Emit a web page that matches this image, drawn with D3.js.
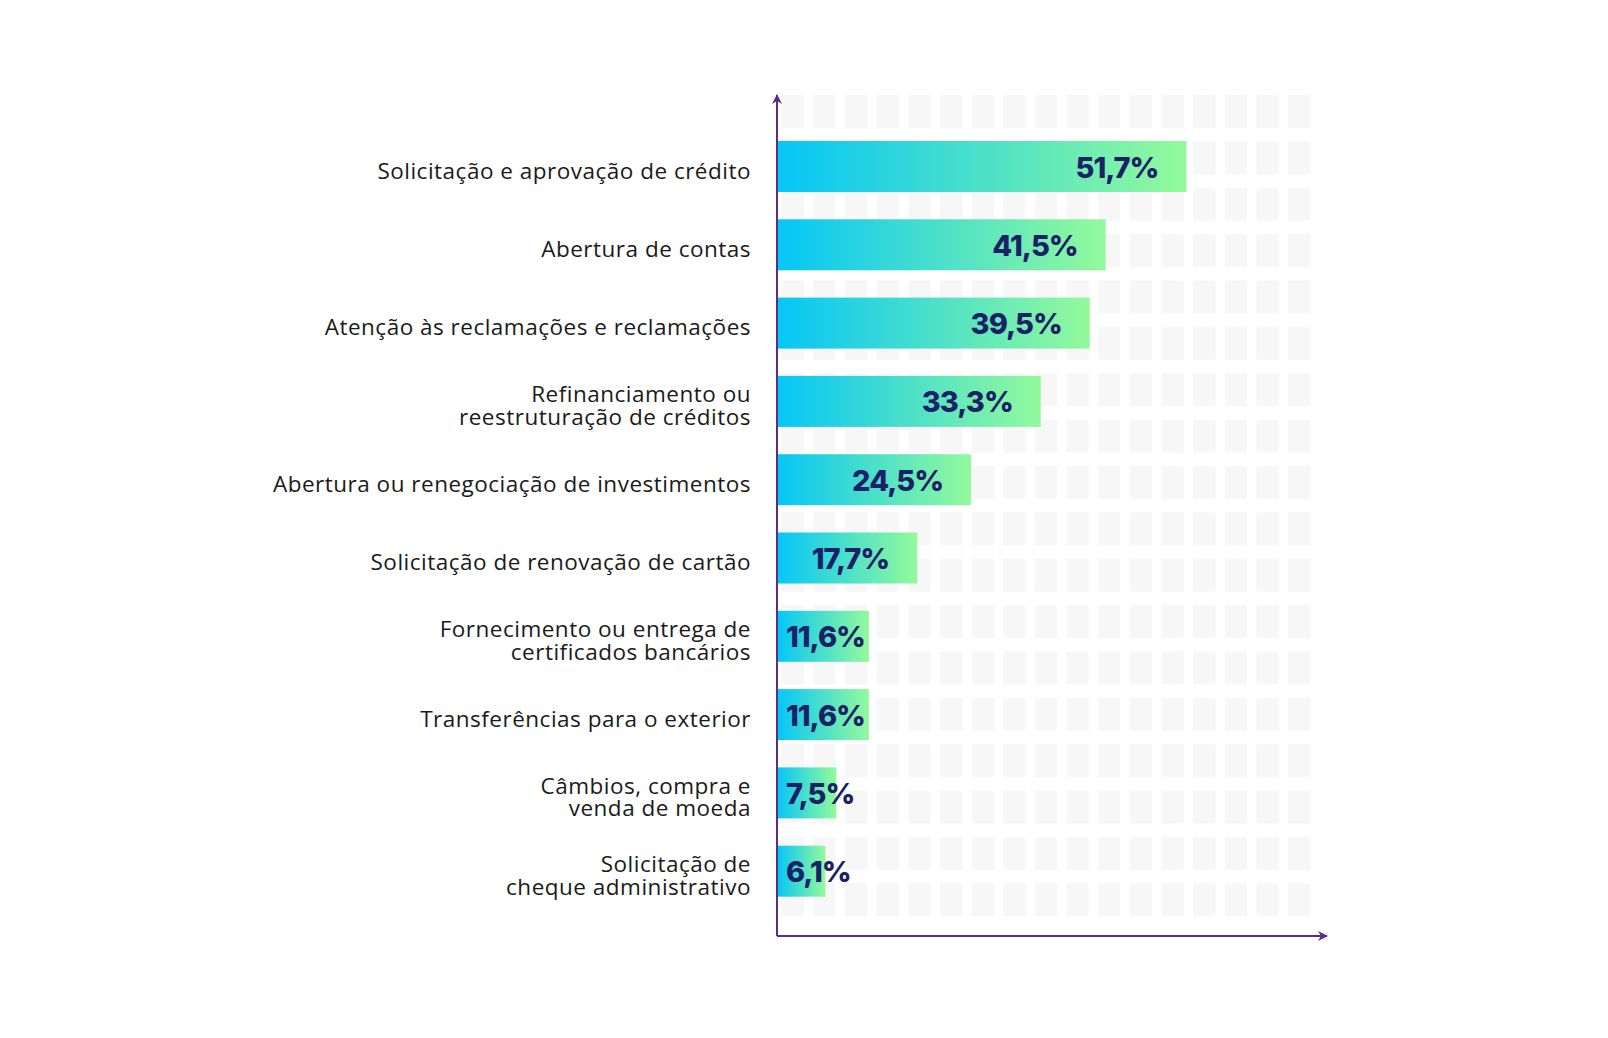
<!DOCTYPE html>
<html>
<head>
<meta charset="utf-8">
<script src="https://cdn.jsdelivr.net/npm/d3@7"></script>
<style>
  html, body { margin: 0; padding: 0; background: #ffffff; }
  svg { display: block; }
</style>
</head>
<body>
<svg id="chart" width="1608" height="1038"></svg>
<script>
// ---- data ----
const categories = [
  "Solicitação e aprovação de crédito",
  "Abertura de contas",
  "Atenção às reclamações e reclamações",
  "Refinanciamento ou\nreestruturação de créditos",
  "Abertura ou renegociação de investimentos",
  "Solicitação de renovação de cartão",
  "Fornecimento ou entrega de\ncertificados bancários",
  "Transferências para o exterior",
  "Câmbios, compra e\nvenda de moeda",
  "Solicitação de\ncheque administrativo"
];
const values = [51.7, 41.5, 39.5, 33.3, 24.5, 17.7, 11.6, 11.6, 7.5, 6.1];

// ---- layout ----
const svg = d3.select("#chart");
const x0 = 777, axisTop = 95, axisBottom = 936, axisRight = 1327;
const ptLocale = d3.formatLocale({decimal: ",", thousands: ".", grouping: [3], currency: ["", ""]});
const fmt = v => ptLocale.format(".1f")(v) + "%";

const x = d3.scaleLinear().domain([0, 68]).range([x0, x0 + 68 * 7.92]);
const step = 78.3, bandH = 51;
const pad = (step - bandH) / step;
const y = d3.scaleBand().domain(categories)
  .range([141 - pad / 2 * step, 141 - pad / 2 * step + step * categories.length])
  .paddingInner(pad).paddingOuter(pad / 2);

// ---- background grid of light squares ----
const cols = d3.range(17), rows = d3.range(18);
const gridG = svg.append("g");
rows.forEach(r => {
  gridG.selectAll(null).data(cols).enter().append("rect")
    .attr("x", c => 781.7 + c * 31.65)
    .attr("y", 95 + r * 46.37)
    .attr("width", 22.3)
    .attr("height", 33)
    .attr("fill", "#f7f7f7");
});

// ---- gradient ----
const defs = svg.append("defs");
const grad = defs.append("linearGradient").attr("id", "barGrad")
  .attr("x1", "0%").attr("x2", "100%").attr("y1", "0%").attr("y2", "0%");
grad.append("stop").attr("offset", "0%").attr("stop-color", "#05c6f7");
grad.append("stop").attr("offset", "100%").attr("stop-color", "#93fa9b");

const mk = defs.append("marker").attr("id", "arrow")
  .attr("viewBox", "0 0 10 10").attr("refX", 9).attr("refY", 5)
  .attr("markerWidth", 5).attr("markerHeight", 5).attr("orient", "auto-start-reverse")
  .attr("markerUnits", "strokeWidth");
mk.append("path").attr("d", "M0,0 L10,5 L0,10 L3,5 Z").attr("fill", "#5a2d8c");

// ---- bars ----
svg.append("g").selectAll("rect").data(values).enter().append("rect")
  .attr("x", x(0))
  .attr("y", (d, i) => y(categories[i]))
  .attr("width", d => x(d) - x(0))
  .attr("height", y.bandwidth())
  .attr("fill", "url(#barGrad)");

// ---- value labels ----
svg.append("g").selectAll("text").data(values).enter().append("text")
  .attr("x", d => (x(d) - x(0) > 120) ? x(d) - 28 : x(0) + 9)
  .attr("y", (d, i) => y(categories[i]) + y.bandwidth() / 2 + 11)
  .attr("text-anchor", d => (x(d) - x(0) > 120) ? "end" : "start")
  .attr("font-family", "Inter, 'Open Sans', sans-serif")
  .attr("font-weight", 800)
  .attr("font-size", 29)
  .attr("letter-spacing", -1)
  .attr("fill", "#1b2167")
  .text(d => fmt(d));

// ---- category labels ----
const catG = svg.append("g");
categories.forEach(c => {
  const lines = c.split("\n");
  const cy = y(c) + y.bandwidth() / 2;
  const t = catG.append("text")
    .attr("text-anchor", "end")
    .attr("font-family", "'Open Sans', sans-serif")
    .attr("font-size", 22.5)
    .attr("letter-spacing", 0.5)
    .attr("fill", "#1a1a1a");
  lines.forEach((ln, k) => {
    const base = lines.length === 1 ? cy + 12 : cy + 1 + k * 22.5;
    t.append("tspan").attr("x", 751).attr("y", base).text(ln);
  });
});

// ---- axes ----
svg.append("line")
  .attr("x1", x0).attr("y1", axisBottom).attr("x2", x0).attr("y2", axisTop)
  .attr("stroke", "#5a2d8c").attr("stroke-width", 2).attr("marker-end", "url(#arrow)");
svg.append("line")
  .attr("x1", x0).attr("y1", axisBottom).attr("x2", axisRight).attr("y2", axisBottom)
  .attr("stroke", "#5a2d8c").attr("stroke-width", 2).attr("marker-end", "url(#arrow)");
</script>
</body>
</html>
